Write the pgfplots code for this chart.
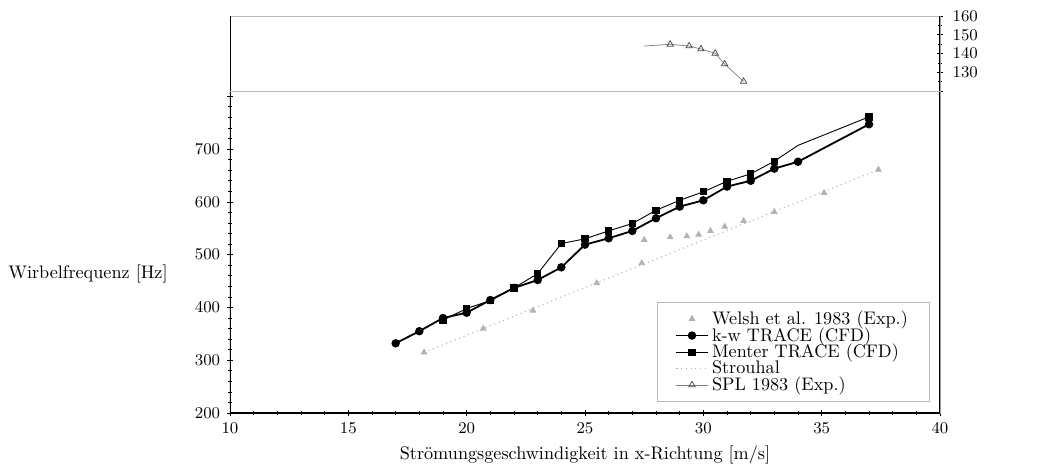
\documentclass[border=0pt]{standalone}
\usepackage{pgfplots}
\pgfplotsset{compat=1.18}
\begin{document}
\begin{tikzpicture}
\pgfplotsset{
  every axis/.append style={scale only axis, width=390.5pt, xmin=10, xmax=40,
    tick align=center, major tick length=3.8pt, minor tick length=2.6pt,
    tick style={black, line width=0.4pt}, axis line style={draw=gray!55},
    tick label style={font=\small}},
}
\begin{axis}[
  height=177.1pt,
  ymin=200, ymax=810,
  ytick={200,300,400,500,600,700,800},
  yticklabels={200,300,400,500,600,700,},
  minor y tick num=4,
  xtick={10,15,...,40},
  minor x tick num=4,
  xtick pos=bottom, ytick pos=left,
  xlabel={Strömungsgeschwindigkeit in x-Richtung [m/s]},
  ylabel={Wirbelfrequenz [Hz]},
  every axis y label/.style={at={(rel axis cs:0,0.432)}, anchor=east, xshift=-30.8pt},
  every axis x label/.style={at={(rel axis cs:0.5,0)}, anchor=north, yshift=-14.8pt},
  legend cell align=left,
  legend style={at={(rel axis cs:0.986,0.345)}, anchor=north east, draw=gray!55,
    row sep=-3.8pt, inner xsep=10pt, inner ysep=2.6pt},
]
\coordinate (O) at (rel axis cs:0,0);
\coordinate (TL) at (rel axis cs:0,1);
\addplot[only marks, mark=triangle*, mark size=1.8pt, color=gray!60] coordinates {
(18.2,315) (20.7,360) (22.8,394) (25.5,446) (27.4,484) (27.5,528) (28.6,533)
(29.3,535) (29.8,538) (30.3,545) (30.9,553) (31.7,564) (33.0,581) (35.1,617) (37.4,661)};
\addlegendentry{Welsh et al. 1983 (Exp.)}
\addplot[black, line width=1pt, mark=*, mark size=1.8pt] coordinates {
(17,332) (18,355) (19,380) (20,390) (21,414) (22,437) (23,452) (24,476) (25,519)
(26,531) (27,545) (28,569) (29,591) (30,603) (31,629) (32,640) (33,663) (34,676) (37,747)};
\addlegendentry{k-w TRACE (CFD)}
\addplot[black, line width=0.5pt, forget plot] coordinates {
(33,677) (34,707) (37,761)};
\addplot[black, line width=0.5pt, mark=square*, mark size=1.7pt] coordinates {
(19,376) (20,398) (21,413) (22,437) (23,464) (24,521) (25,530) (26,545) (27,559)
(28,584) (29,603) (30,619) (31,639) (32,653) (33,677)};
\addlegendentry{Menter TRACE (CFD)}
\addplot[black, line width=0.5pt, mark=square*, mark size=1.7pt, forget plot] coordinates {(37,761)};
\addplot[gray!60, dotted, line width=0.6pt] coordinates {(18.2,315) (37.4,661)};
\addlegendentry{Strouhal}
\addlegendimage{gray, line width=0.4pt, mark=triangle, mark size=2pt, mark options={black!70, fill=white, solid}}
\addlegendentry{SPL 1983 (Exp.)}
\draw[black, line width=0.6pt] (rel axis cs:0,1) -- (rel axis cs:0,0) -- (rel axis cs:1,0) -- (rel axis cs:1,1);
\end{axis}
\begin{axis}[
  at={(TL)}, anchor=south west,
  height=41.25pt,
  ymin=120, ymax=160,
  ytick={120,130,140,150,160},
  yticklabels={,130,140,150,160},
  minor y tick num=1,
  xtick=\empty,
  ytick pos=right, yticklabel pos=right,
  yticklabel style={xshift=1.5pt},
]
\addplot[gray, line width=0.4pt] coordinates {(27.5,144) (28.6,144.9)};
\addplot[gray, line width=0.4pt, mark=triangle, mark size=2pt, mark options={black!70, fill=white, solid}] coordinates {
(28.6,144.9) (29.4,144) (29.9,142.4) (30.5,140.1) (30.9,134.4) (31.7,125.1)};
\draw[black, line width=0.6pt] (rel axis cs:0,0) -- (rel axis cs:0,1);
\draw[black, line width=0.6pt] (rel axis cs:1,0) -- (rel axis cs:1,1);
\node[anchor=west, font=\small, xshift=26pt] at (rel axis cs:1,0.64) {SPL [dB]};
\end{axis}
\pgfresetboundingbox
\path (O) ++(-126.5pt,-27.5pt) rectangle ++(582.45pt,254.65pt);
\end{tikzpicture}
\end{document}
